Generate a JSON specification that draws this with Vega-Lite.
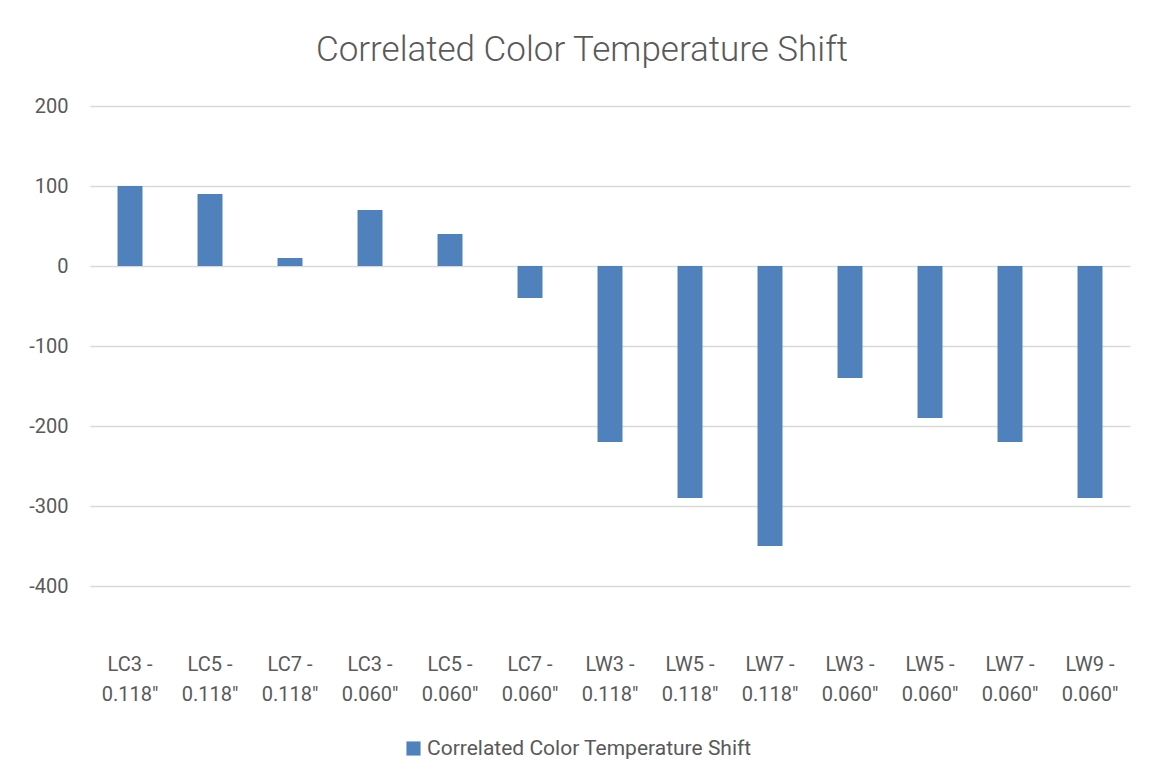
{
  "$schema": "https://vega.github.io/schema/vega-lite/v6.json",
  "width": 1040,
  "height": 480,
  "autosize": {"type": "none"},
  "padding": {"left": 90, "top": 106, "right": 19, "bottom": 194},
  "background": "white",
  "title": {
    "text": "Correlated Color Temperature Shift",
    "font": "Roboto",
    "fontWeight": 300,
    "fontSize": 35,
    "color": "#595959",
    "anchor": "middle",
    "dx": -28,
    "offset": 28
  },
  "data": {
    "values": [
      {"cat": "LC3 - 0.118″", "value": 100, "series": "Correlated Color Temperature Shift"},
      {"cat": "LC5 - 0.118″", "value": 90, "series": "Correlated Color Temperature Shift"},
      {"cat": "LC7 - 0.118″", "value": 10, "series": "Correlated Color Temperature Shift"},
      {"cat": "LC3 - 0.060″", "value": 70, "series": "Correlated Color Temperature Shift"},
      {"cat": "LC5 - 0.060″", "value": 40, "series": "Correlated Color Temperature Shift"},
      {"cat": "LC7 - 0.060″", "value": -40, "series": "Correlated Color Temperature Shift"},
      {"cat": "LW3 - 0.118″", "value": -220, "series": "Correlated Color Temperature Shift"},
      {"cat": "LW5 - 0.118″", "value": -290, "series": "Correlated Color Temperature Shift"},
      {"cat": "LW7 - 0.118″", "value": -350, "series": "Correlated Color Temperature Shift"},
      {"cat": "LW3 - 0.060″", "value": -140, "series": "Correlated Color Temperature Shift"},
      {"cat": "LW5 - 0.060″", "value": -190, "series": "Correlated Color Temperature Shift"},
      {"cat": "LW7 - 0.060″", "value": -220, "series": "Correlated Color Temperature Shift"},
      {"cat": "LW9 - 0.060″", "value": -290, "series": "Correlated Color Temperature Shift"}
    ]
  },
  "mark": {"type": "bar"},
  "encoding": {
    "x": {
      "field": "cat",
      "type": "nominal",
      "sort": null,
      "scale": {"paddingInner": 0.6875, "paddingOuter": 0.34375},
      "axis": {
        "title": null,
        "domain": false,
        "ticks": false,
        "labelAngle": 0,
        "labelFont": "Roboto",
        "labelFontSize": 20,
        "labelColor": "#595959",
        "labelLineHeight": 30,
        "labelPadding": 68,
        "labelExpr": "[slice(datum.label, 0, 5), slice(datum.label, 6)]"
      }
    },
    "y": {
      "field": "value",
      "type": "quantitative",
      "scale": {"domain": [-400, 200], "nice": false, "zero": true},
      "axis": {
        "title": null,
        "values": [-400, -300, -200, -100, 0, 100, 200],
        "domain": false,
        "ticks": false,
        "labelFont": "Roboto",
        "labelFontSize": 20,
        "labelColor": "#595959",
        "labelPadding": 22,
        "labelExpr": "toString(datum.value)",
        "gridColor": "#d9d9d9",
        "gridWidth": 1.5
      }
    },
    "color": {
      "field": "series",
      "type": "nominal",
      "scale": {"range": ["#4F81BD"]},
      "legend": {
        "title": null,
        "orient": "none",
        "legendX": 313,
        "legendY": 632,
        "symbolType": "square",
        "symbolSize": 200,
        "symbolStrokeWidth": 0,
        "labelFont": "Roboto",
        "labelFontSize": 21,
        "labelColor": "#595959",
        "labelOffset": 3,
        "labelLimit": 0
      }
    }
  },
  "config": {"view": {"stroke": null}}
}
